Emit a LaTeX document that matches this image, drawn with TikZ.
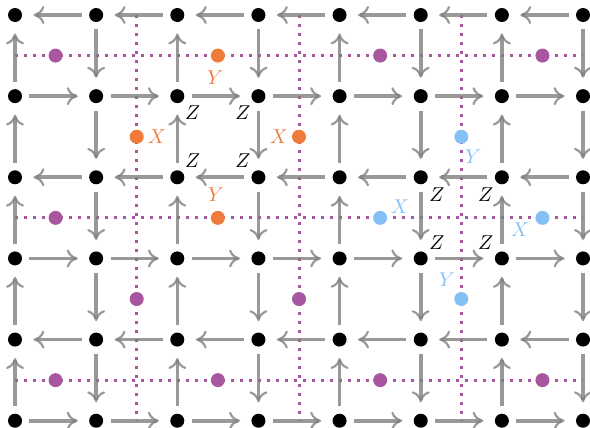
\documentclass[tikz,border=0pt]{standalone}
\usepackage{amsmath,amssymb}
\usepackage{tikz}
\usepackage{xcolor}
\usetikzlibrary{arrows.meta}

\definecolor{dualpurple}{RGB}{168,86,160}
\definecolor{errorange}{RGB}{240,122,58}
\definecolor{errblue}{RGB}{132,192,245}

\begin{document}
\begin{tikzpicture}[x=1.426cm, y=-1.426cm, every node/.style={font=\normalsize},
  site/.style={circle,fill=black,inner sep=0pt,minimum size=7pt},
  dsite/.style={circle,fill=#1,inner sep=0pt,minimum size=7pt},
  flow/.style={-{To[length=5.5pt,width=9pt,line width=1.1pt]}, line width=1.8pt, black!50, opacity=0.8, shorten >=5.5pt, shorten <=3.5pt},
  dual/.style={dualpurple, line width=1.5pt, dash pattern=on 1.5pt off 3pt}]
\useasboundingbox (-0.185,-0.185) rectangle (7.086,5.086);
% dual lattice (dotted)
\foreach \k in {0,1,2} {
  \coordinate (hw\k) at (0,2*\k+0.5); \coordinate (he\k) at (7,2*\k+0.5);
  \coordinate (vn\k) at (2*\k+1.5,0); \coordinate (vs\k) at (2*\k+1.5,5);
  \draw[dual] (hw\k) -- (he\k); \draw[dual] (vn\k) -- (vs\k);
}
% primal sites
\foreach \c in {0,...,7} \foreach \r in {0,...,5} \node[site] (v-\c-\r) at (\c,\r) {};
% horizontal flow
\foreach \r in {0,...,5} \foreach \c in {0,...,6} {
  \pgfmathtruncatemacro\nxt{\c+1}
  \ifodd\r\relax \draw[flow] (v-\c-\r) -- (v-\nxt-\r); \else \draw[flow] (v-\nxt-\r) -- (v-\c-\r); \fi
}
% vertical flow
\foreach \c in {0,...,7} \foreach \r in {0,...,4} {
  \pgfmathtruncatemacro\nxt{\r+1}
  \ifodd\c\relax \draw[flow] (v-\c-\r) -- (v-\c-\nxt); \else \draw[flow] (v-\c-\nxt) -- (v-\c-\r); \fi
}
% dual sites
\foreach \p [count=\i] in {(0.5,0.5),(4.5,0.5),(6.5,0.5),(0.5,2.5),(0.5,4.5),(2.5,4.5),(4.5,4.5),(6.5,4.5),(1.5,3.5),(3.5,3.5)}
  \node[dsite=dualpurple] (d\i) at \p {};
\node[dsite=errorange] (oy1) at (2.5,0.5) {};
\node[dsite=errorange] (oy2) at (2.5,2.5) {};
\node[dsite=errorange] (ox1) at (1.5,1.5) {};
\node[dsite=errorange] (ox2) at (3.5,1.5) {};
\node[dsite=errblue] (by1) at (5.5,1.5) {};
\node[dsite=errblue] (by2) at (5.5,3.5) {};
\node[dsite=errblue] (bx1) at (4.5,2.5) {};
\node[dsite=errblue] (bx2) at (6.5,2.5) {};
% labels
\node[text=errorange] (loy1) at (2.465,0.776) {$Y$};
\node[text=errorange] (loy2) at (2.477,2.218) {$Y$};
\node[text=errorange] (lox1) at (1.75,1.504) {$X$};
\node[text=errorange] (lox2) at (3.254,1.504) {$X$};
\node[text=errblue] (lby1) at (5.645,1.75) {$Y$};
\node[text=errblue] (lby2) at (5.324,3.266) {$Y$};
\node[text=errblue] (lbx1) at (4.745,2.366) {$X$};
\node[text=errblue] (lbx2) at (6.224,2.65) {$X$};
\node (z1) at (2.19,1.2) {$Z$}; \node (z2) at (2.81,1.2) {$Z$};
\node (z3) at (2.19,1.8) {$Z$}; \node (z4) at (2.81,1.8) {$Z$};
\node (z5) at (5.2,2.22) {$Z$}; \node (z6) at (5.8,2.22) {$Z$};
\node (z7) at (5.2,2.8) {$Z$}; \node (z8) at (5.8,2.8) {$Z$};
\end{tikzpicture}
\end{document}
